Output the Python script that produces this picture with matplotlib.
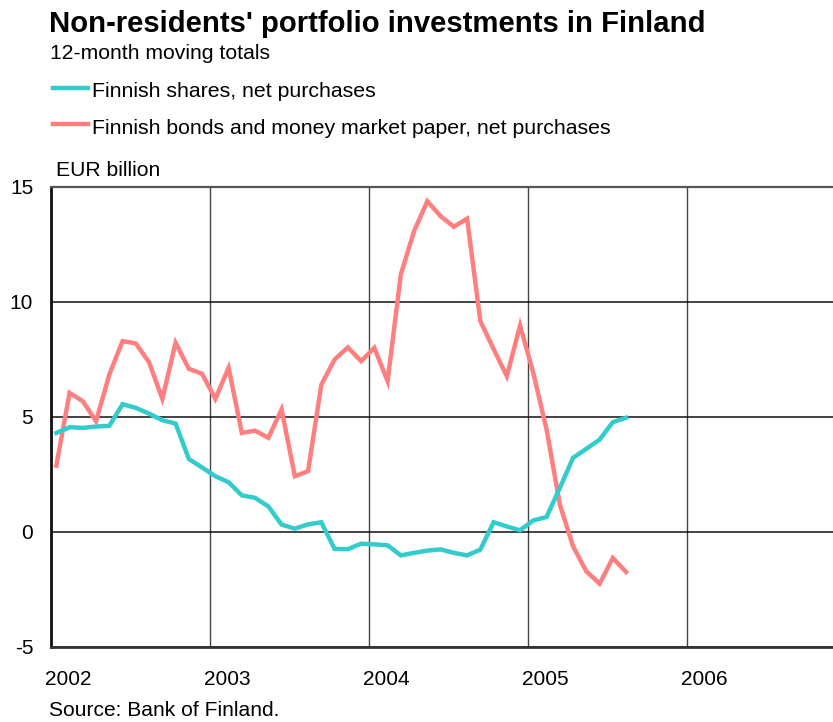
import matplotlib
matplotlib.use("Agg")
import matplotlib.pyplot as plt
import numpy as np

plt.rcParams['font.family'] = ['Liberation Sans', 'DejaVu Sans']
plt.rcParams['axes.unicode_minus'] = False

# Monthly data, Jan 2002 .. Aug 2005 (EUR billion, 12-month moving totals)
shares = [4.30, 4.55, 4.52, 4.58, 4.61, 5.55, 5.39, 5.14, 4.85, 4.71, 3.17, 2.80,
          2.42, 2.16, 1.59, 1.48, 1.11, 0.32, 0.14, 0.33, 0.42, -0.74, -0.75, -0.51,
          -0.54, -0.58, -1.02, -0.91, -0.81, -0.76, -0.91, -1.02, -0.77, 0.42, 0.24, 0.07,
          0.50, 0.65, 1.91, 3.22, 3.61, 4.01, 4.77, 4.96]
bonds = [2.88, 6.04, 5.68, 4.81, 6.84, 8.29, 8.19, 7.37, 5.78, 8.22, 7.09, 6.87,
         5.78, 7.13, 4.30, 4.40, 4.09, 5.32, 2.42, 2.64, 6.40, 7.49, 8.02, 7.42,
         8.00, 6.55, 11.19, 13.07, 14.37, 13.72, 13.26, 13.61, 9.16, 7.95, 6.77, 8.97,
         6.90, 4.45, 1.19, -0.63, -1.71, -2.25, -1.13, -1.74]
start_year = 2002
year_labels = ['2002', '2003', '2004', '2005', '2006']
y_ticks = [-5, 0, 5, 10, 15]
series_names = ['Finnish shares, net purchases',
                'Finnish bonds and money market paper, net purchases']

W, H = 833, 722
fig = plt.figure(figsize=(W / 100, H / 100), dpi=100)

left_px, right_px, top_px, bottom_px = 51.3, 833, 186.7, 647
ax = fig.add_axes([left_px / W, 1 - bottom_px / H, (right_px - left_px) / W,
                   (bottom_px - top_px) / H])

x = start_year + (np.arange(len(shares)) + 0.38) / 12.0
c_sh = '#33CCCC'
c_bd = '#FF7F7F'
ax.plot(x, bonds, color=c_bd, lw=3.2, solid_joinstyle='miter', zorder=3)
ax.plot(x, shares, color=c_sh, lw=3.2, solid_joinstyle='miter', zorder=4)

ax.set_xlim(2002, 2002 + (right_px - left_px) / 159.0)
ax.set_ylim(-5, 15)

years = [start_year + i for i in range(len(year_labels))]
ax.set_xticks(years)
ax.set_xticklabels([''] * len(years))
ax.set_xticks([y + 0.108 for y in years], minor=True)
ax.set_xticklabels(year_labels, minor=True)
ax.tick_params(axis='x', which='both', length=0)
ax.tick_params(axis='x', which='minor', pad=16.5, labelsize=15)
ax.set_yticks(y_ticks)
ax.tick_params(axis='y', length=0, pad=13, labelsize=15)

ax.grid(axis='y', color='#111111', lw=1.1, zorder=1)
ax.grid(axis='x', which='major', color='#444444', lw=1.0, zorder=1)

ax.spines['right'].set_visible(False)
ax.spines['left'].set_linewidth(2.0)
ax.spines['left'].set_color('#111111')
ax.spines['bottom'].set_linewidth(2.0)
ax.spines['bottom'].set_color('#333333')
ax.spines['top'].set_linewidth(1.6)
ax.spines['top'].set_color('#555555')

def px(xp, yp):
    return xp / W, 1 - yp / H

fig.text(*px(49, 32), "Non-residents' portfolio investments in Finland",
         fontsize=21.1, fontweight='bold', va='baseline', ha='left')
fig.text(*px(50, 59), "12-month moving totals", fontsize=15.2, va='baseline', ha='left')

for i, (name, col) in enumerate(zip(series_names, [c_sh, c_bd])):
    yl = 87.5 + i * 36.5
    fig.add_artist(plt.Line2D([53 / W, 88 / W], [1 - yl / H, 1 - yl / H],
                              color=col, lw=3.2, transform=fig.transFigure))
    fig.text(*px(92, yl + 9.5), name, fontsize=15.3, va='baseline', ha='left')

fig.text(*px(56, 176.5), "EUR billion", fontsize=15.2, va='baseline', ha='left')
fig.text(*px(49, 716.5), "Source: Bank of Finland.", fontsize=15.1, va='baseline', ha='left')

fig.savefig('out.png', dpi=100)
